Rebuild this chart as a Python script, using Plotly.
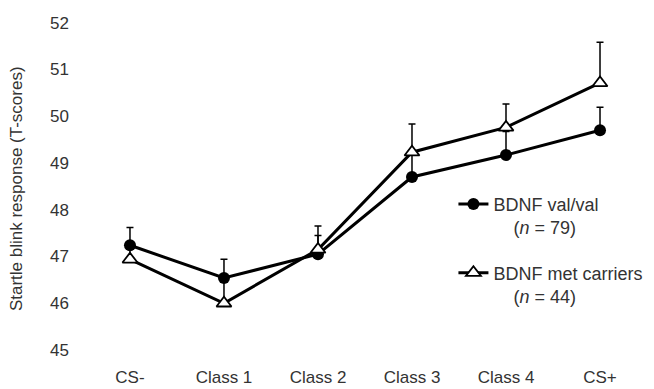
import plotly.graph_objects as go

# Conditioning phases on the x axis
phases = ["CS-", "Class 1", "Class 2", "Class 3", "Class 4", "CS+"]

# Mean startle blink response (T-scores) and SEM per genotype group
valval_mean = [47.24, 46.54, 47.05, 48.70, 49.17, 49.70]
valval_sem = [0.38, 0.40, 0.40, 0.50, 0.50, 0.49]

met_mean = [46.94, 46.00, 47.15, 49.23, 49.76, 50.71]
met_sem = [0.35, 0.50, 0.50, 0.60, 0.50, 0.87]

y_ticks = [45, 46, 47, 48, 49, 50, 51, 52]

FONT = "Liberation Sans, Arial, sans-serif"
FS = 17
NB = "\u00a0"

fig = go.Figure()

fig.add_trace(go.Scatter(
    x=phases, y=valval_mean,
    mode="lines+markers",
    name="BDNF val/val<br>" + NB * 4 + "(<i>n</i> = 79)",
    legendgroup="a",
    line=dict(color="black", width=3),
    marker=dict(symbol="circle", size=12, color="black"),
    error_y=dict(type="data", symmetric=False, array=valval_sem,
                 arrayminus=[0] * len(valval_sem),
                 color="black", thickness=1.5, width=3.5),
))

fig.add_trace(go.Scatter(
    x=phases, y=met_mean,
    mode="lines+markers",
    name="BDNF met carriers<br>" + NB * 4 + "(<i>n</i> = 44)",
    legendgroup="b",
    line=dict(color="black", width=3),
    marker=dict(symbol="triangle-up", size=13, color="white",
                line=dict(color="black", width=1.8)),
    error_y=dict(type="data", symmetric=False, array=met_sem,
                 arrayminus=[0] * len(met_sem),
                 color="black", thickness=1.5, width=3.5),
))

fig.update_layout(
    width=654, height=389,
    margin=dict(l=70, r=10, t=10, b=24, autoexpand=False),
    paper_bgcolor="white", plot_bgcolor="white",
    font=dict(family=FONT, size=FS, color="#333"),
    showlegend=True,
    legend=dict(x=0.668, y=0.505, xanchor="left", yanchor="top",
                bgcolor="rgba(0,0,0,0)", tracegroupgap=19,
                traceorder="grouped", valign="top",
                font=dict(size=18, color="#333")),
    xaxis=dict(type="category", range=[-0.638, 5.468],
               showline=False, showgrid=False, zeroline=False,
               ticks="", tickfont=dict(size=FS)),
    yaxis=dict(range=[44.68, 52.27], tickvals=y_ticks,
               showline=False, showgrid=False, zeroline=False,
               ticks="", tickfont=dict(size=FS)),
    annotations=[dict(
        text="Startle blink response (T-scores)",
        xref="paper", yref="paper", x=-0.092, y=0.496,
        xanchor="center", yanchor="middle", textangle=-90,
        showarrow=False, font=dict(size=FS, color="#333"),
    )],
)

fig.write_html("out.html")
